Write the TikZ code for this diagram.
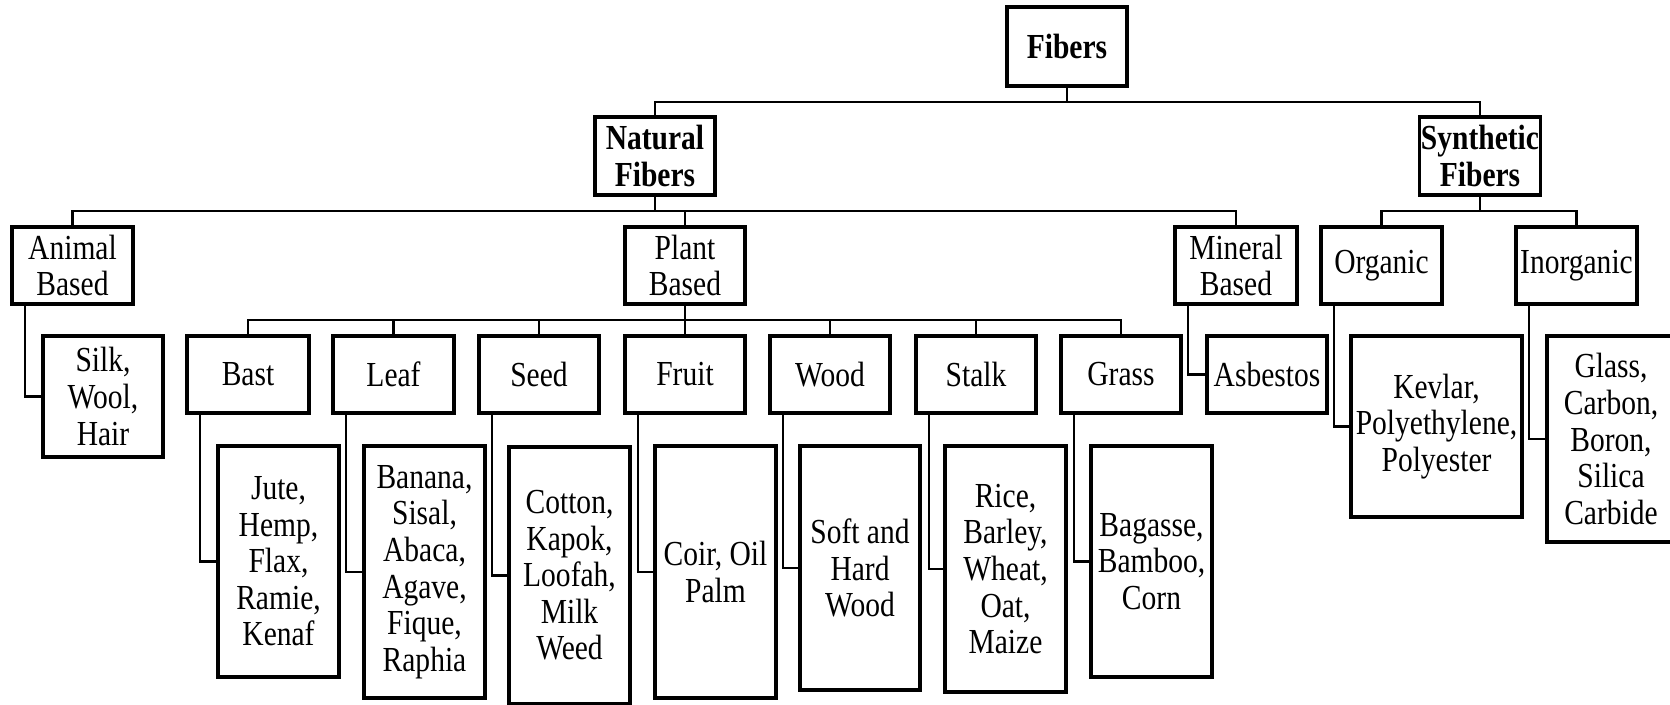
\documentclass[tikz,border=0pt]{standalone}
\usepackage{fontspec}
\setmainfont{Liberation Serif}[FakeStretch=0.84]
\begin{document}
\begin{tikzpicture}[x=0.02cm, y=-0.02cm,
  box/.style 2 args={draw=black, line width=1.8pt, fill=white, inner sep=0pt,
    outer sep=0pt, align=center, minimum width={#1*0.02cm}, minimum height={#2*0.02cm},
    font=\fontsize{20}{20.8}\selectfont},
  head/.style={font=\fontsize{20}{20.8}\selectfont\bfseries},
  link/.style={draw=black, line width=1.5pt}]
\useasboundingbox (0,0) rectangle (1670,705);

% top levels
\node[box={120}{79}, head] (fib) at (1067,46.5) {Fibers};
\node[box={120}{78}, head] (nat) at (655,156) {Natural\\Fibers};
\node[box={121}{78}, head] (syn) at (1480,156) {Synthetic\\Fibers};

% second level
\node[box={121}{77}] (ani) at (72.5,265.5) {Animal\\Based};
\node[box={120}{77}] (pla) at (685,265.5) {Plant\\Based};
\node[box={122}{77}] (mine) at (1236,265.5) {Mineral\\Based};
\node[box={121}{77}] (org) at (1381.5,265.5) {Organic};
\node[box={121}{77}] (ino) at (1576.5,265.5) {Inorganic};

% plant categories
\node[box={122}{77}] (bast) at (248,374.5) {Bast};
\node[box={121}{77}] (leaf) at (393.5,374.5) {Leaf};
\node[box={120}{77}] (seed) at (539,374.5) {Seed};
\node[box={120}{77}] (fruit) at (685,374.5) {Fruit};
\node[box={120}{77}] (wood) at (830,374.5) {Wood};
\node[box={120}{77}] (stalk) at (976,374.5) {Stalk};
\node[box={120}{77}] (grass) at (1121,374.5) {Grass};

% leaf boxes
\node[box={120}{121}] (silk) at (103,396.5) {Silk,\\Wool,\\Hair};
\node[box={120}{77}] (asb) at (1267,374.5) {Asbestos};
\node[box={171}{181}] (kev) at (1436.5,426.5) {Kevlar,\\Polyethylene,\\Polyester};
\node[box={128}{206}] (gla) at (1611,439) {Glass,\\Carbon,\\Boron,\\Silica\\Carbide};

\node[box={121}{231}] (jute) at (278.5,561.5) {Jute,\\Hemp,\\Flax,\\Ramie,\\Kenaf};
\node[box={121}{252}] (ban) at (424.5,572) {Banana,\\Sisal,\\Abaca,\\Agave,\\Fique,\\Raphia};
\node[box={121}{257}] (cot) at (569.5,575.5) {Cotton,\\Kapok,\\Loofah,\\Milk\\Weed};
\node[box={121}{252}] (coir) at (715.5,572) {Coir, Oil\\Palm};
\node[box={120}{244}] (soft) at (860,568) {Soft and\\Hard\\Wood};
\node[box={121}{246}] (rice) at (1005.5,569) {Rice,\\Barley,\\Wheat,\\Oat,\\Maize};
\node[box={121}{231}] (bag) at (1151.5,561.5) {Bagasse,\\Bamboo,\\Corn};

% bus junctions
\coordinate (b0) at (1067,102);
\coordinate (b1) at (655,211);
\coordinate (b2) at (1480,211);
\coordinate (b3) at (685,320);

% tree connectors
\draw[link] (fib.south) -- (b0);
\draw[link] (nat.north) |- (b0) -| (syn.north);
\draw[link] (nat.south) -- (b1);
\draw[link] (ani.north) |- (b1) -| (mine.north);
\draw[link] (pla.north) -- (pla.north |- b1);
\draw[link] (syn.south) -- (b2);
\draw[link] (org.north) |- (b2) -| (ino.north);
\draw[link] (pla.south) -- (b3);
\draw[link] (bast.north) |- (b3) -| (grass.north);
\foreach \n in {leaf,seed,fruit,wood,stalk}
  \draw[link] (\n.north) -- (\n.north |- b3);

% elbow connectors to the lists
\foreach \p/\c in {ani/silk, mine/asb, org/kev, ino/gla, bast/jute, leaf/ban,
                   seed/cot, fruit/coir, wood/soft, stalk/rice, grass/bag}
  \draw[link] ([xshift=13*0.02cm]\p.south west) |- (\c.west);
\end{tikzpicture}
\end{document}
